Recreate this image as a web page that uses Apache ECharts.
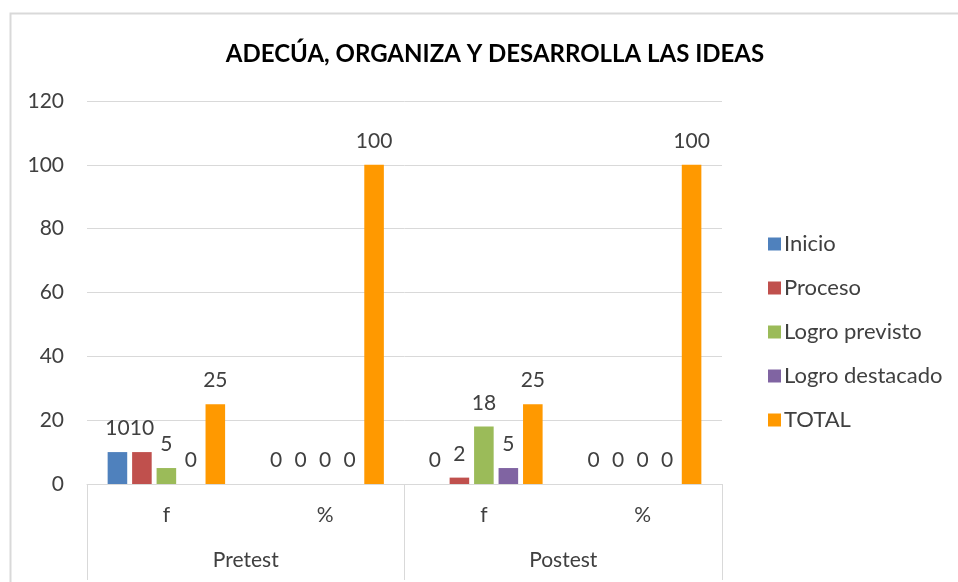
<!DOCTYPE html>
<html>
<head>
<meta charset="utf-8">
<script src="https://cdn.jsdelivr.net/npm/echarts@6/dist/echarts.min.js"></script>
<style>
  html, body { margin: 0; padding: 0; background: #fff; }
  #chart { width: 958px; height: 582px; }
</style>
</head>
<body>
<div id="chart"></div>
<script>
const FONT = "Lato, 'Open Sans', sans-serif";

const categories = ["f", "%", "f", "%"];
const groups = ["Pretest", "Postest"];
const seriesNames = ["Inicio", "Proceso", "Logro previsto", "Logro destacado", "TOTAL"];
const colors = ["#4F81BD", "#C0504D", "#9BBB59", "#8064A2", "#FF9900"];

const inicio = [10, 0, 0, 0];
const proceso = [10, 0, 2, 0];
const logroPrevisto = [5, 0, 18, 0];
const logroDestacado = [0, 0, 5, 0];
const total = [25, 100, 25, 100];

const yTicks = [0, 20, 40, 60, 80, 100, 120];

const values = [inicio, proceso, logroPrevisto, logroDestacado, total];

const chart = echarts.init(document.getElementById("chart"));

const series = seriesNames.map((name, i) => ({
  name: name,
  type: "bar",
  data: values[i],
  barGap: "25%",
  barCategoryGap: "26%",
  itemStyle: { color: colors[i] },
  label: {
    show: true,
    position: "top",
    distance: 13,
    color: "#404040",
    fontSize: 21,
    fontFamily: FONT
  }
}));

chart.setOption({
  animation: false,
  backgroundColor: "#fff",
  title: {
    text: "ADECÚA, ORGANIZA Y DESARROLLA LAS IDEAS",
    left: 490,
    textAlign: "center",
    top: 37,
    textStyle: { fontSize: 24, fontWeight: "bold", color: "#000", fontFamily: FONT }
  },
  legend: {
    orient: "vertical",
    left: 763,
    top: 228,
    itemWidth: 13,
    itemHeight: 13,
    itemGap: 22,
    icon: "rect",
    textStyle: { fontSize: 22, color: "#404040", fontFamily: FONT, padding: [0, 0, 0, -2] },
    data: seriesNames
  },
  grid: { left: 87, right: 236, top: 101, bottom: 98 },
  xAxis: [
    {
      type: "category",
      data: categories,
      position: "bottom",
      axisLine: { show: true, lineStyle: { color: "#d9d9d9", width: 1 } },
      axisTick: { show: false },
      axisLabel: { margin: 21, fontSize: 21, color: "#404040", fontFamily: FONT }
    },
    {
      type: "category",
      data: groups,
      position: "bottom",
      axisLine: { show: false },
      axisTick: { show: true, length: 96, interval: 0, lineStyle: { color: "#d9d9d9" } },
      axisLabel: { margin: 66, fontSize: 21, color: "#404040", fontFamily: FONT },
      splitLine: { show: false }
    }
  ],
  yAxis: {
    type: "value",
    min: yTicks[0],
    max: yTicks[yTicks.length - 1],
    interval: 20,
    axisLine: { show: false },
    axisTick: { show: false },
    axisLabel: { margin: 23, fontSize: 21, color: "#404040", fontFamily: FONT },
    splitLine: { lineStyle: { color: "#d9d9d9", width: 1 } }
  },
  graphic: [
    {
      type: "rect",
      shape: { x: 10.5, y: 13.5, width: 980, height: 620 },
      style: { fill: "none", stroke: "#d9d9d9", lineWidth: 2 },
      silent: true
    }
  ],
  series: series
});
</script>
</body>
</html>
